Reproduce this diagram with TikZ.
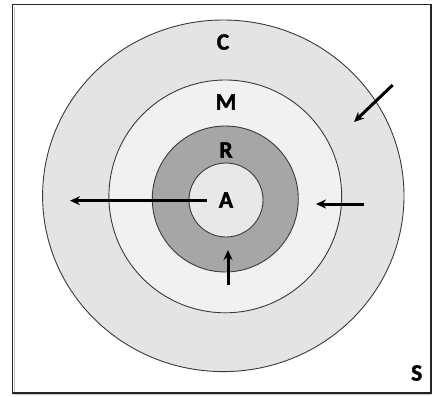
\documentclass[tikz,border=0pt]{standalone}
\usepackage{fontspec}
\setmainfont{Carlito}
\newfontfamily\lblfont{Carlito}[FakeBold=1.6]
\usetikzlibrary{arrows.meta}
\definecolor{ringC}{HTML}{E4E4E4}
\definecolor{ringM}{HTML}{F1F1F1}
\definecolor{ringR}{HTML}{A6A6A6}
\definecolor{ringA}{HTML}{E8E8E8}
\definecolor{edge}{HTML}{3A3A3A}
\begin{document}
\begin{tikzpicture}[x=1pt,y=-1pt,
  ring/.style={draw=edge,line width=0.9pt},
  lbl/.style={font=\lblfont\fontsize{23.5}{26}\selectfont\bfseries,inner sep=0pt},
  flow/.style={line width=3pt,-{Stealth[length=10pt,width=9pt]}}]
\useasboundingbox (0,0) rectangle (432,397);
\fill[white] (0,0) rectangle (432,397);
\draw[gray!45,line width=1.2pt] (14.5,6.5) -- (14.5,394.8) -- (431,394.8);
\draw[black!85,line width=1.5pt] (12.7,4.7) rectangle (431,393);
\draw[ring,fill=ringC] (223.3,195.8) ellipse [x radius=180.7,y radius=175.8];
\draw[ring,fill=ringM] (225.3,196.4) circle [radius=116.4];
\draw[ring,fill=ringR] (225.3,199) circle [radius=73];
\draw[ring,fill=ringA] (226,200) circle [radius=37];
\node[lbl] (C) at (223,42) {C};
\node[lbl] (M) at (226,102) {M};
\node[lbl] (R) at (226,150) {R};
\node[lbl] (A) at (226,200) {A};
\node[lbl] (S) at (416.7,373) {S};
\coordinate (a1s) at (206.7,200.7);
\coordinate (a1e) at (70,200.7);
\coordinate (a2s) at (364,204);
\coordinate (a2e) at (316,204);
\coordinate (a3s) at (228,285);
\coordinate (a3e) at (228,250);
\coordinate (a4s) at (392.7,85);
\coordinate (a4e) at (354,122);
\draw[flow] (a1s) -- (a1e);
\draw[flow] (a2s) -- (a2e);
\draw[flow] (a3s) -- (a3e);
\draw[flow] (a4s) -- (a4e);
\end{tikzpicture}
\end{document}
